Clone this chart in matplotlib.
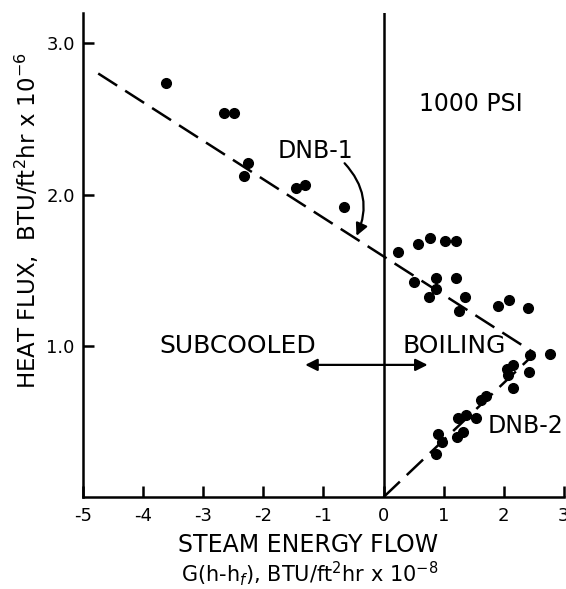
import matplotlib
matplotlib.use("Agg")
import matplotlib.pyplot as plt

# data
sub_x = [-3.62, -2.65, -2.49, -2.26, -2.32, -1.46, -1.30, -0.66]
sub_y = [2.735, 2.54, 2.54, 2.21, 2.12, 2.04, 2.06, 1.92]

boil_x = [0.24, 0.57, 0.77, 1.03, 1.20, 0.50, 0.875, 1.20, 0.875, 0.75, 1.35, 1.25,
          1.90, 2.09, 2.41, 2.77, 2.44, 2.15, 2.06, 2.08, 2.42, 2.16, 1.71, 1.62,
          1.37, 1.24, 1.54, 0.90, 0.975, 1.22, 1.32, 0.875]
boil_y = [1.62, 1.67, 1.71, 1.69, 1.69, 1.42, 1.45, 1.45, 1.375, 1.32, 1.32, 1.23,
          1.265, 1.30, 1.25, 0.945, 0.94, 0.87, 0.845, 0.81, 0.83, 0.72, 0.67, 0.64,
          0.54, 0.525, 0.525, 0.415, 0.366, 0.40, 0.43, 0.287]

dnb1_x = [-4.75, 2.52]
dnb1_y = [2.80, 0.95]
dnb2_x = [0.0, 2.52]
dnb2_y = [0.0, 0.95]

x_ticks = [-5, -4, -3, -2, -1, 0, 1, 2, 3]
x_labels = ["-5", "-4", "-3", "-2", "-1", "0", "1", "2", "3"]
y_ticks = [1.0, 2.0, 3.0]
y_labels = ["1.0", "2.0", "3.0"]

plt.rcParams['font.family'] = ['DejaVu Sans']

fig = plt.figure(figsize=(5.66, 5.89), dpi=100)
ax = fig.add_axes([0.147, 0.156, 0.849, 0.822])

ax.plot(dnb1_x, dnb1_y, color='black', lw=1.8, dashes=(9, 3.8))
ax.plot(dnb2_x, dnb2_y, color='black', lw=1.8, dashes=(9, 3.8))
ax.plot(sub_x, sub_y, 'o', color='black', ms=7)
ax.plot(boil_x, boil_y, 'o', color='black', ms=7)

ax.axvline(0, color='black', lw=1.8)

ax.set_xlim(-5, 3)
ax.set_ylim(0, 3.2)
ax.set_xticks(x_ticks)
ax.set_xticklabels(x_labels)
ax.set_yticks(y_ticks)
ax.set_yticklabels(y_labels)
ax.tick_params(direction='in', length=8, width=1.8, labelsize=13, pad=7)
ax.tick_params(axis='y', pad=6)

for s in ['top', 'right']:
    ax.spines[s].set_visible(False)
for s in ['left', 'bottom']:
    ax.spines[s].set_linewidth(1.8)

# axis titles placed on the figure
fig.text(0.544, 0.075, "STEAM ENERGY FLOW", fontsize=17, ha='center', va='center')
fig.text(0.548, 0.026, "G(h-h$_f$), BTU/ft$^2$hr x 10$^{-8}$", fontsize=15,
         ha='center', va='center')
fig.text(0.048, 0.626, "HEAT FLUX,  BTU/ft$^2$hr x 10$^{-6}$", fontsize=16.5,
         ha='center', va='center', rotation=90)

ax.text(1.45, 2.60, "1000 PSI", fontsize=17, ha='center', va='center')
ax.text(-1.13, 2.29, "DNB-1", fontsize=17, ha='center', va='center')
ax.annotate("", xy=(-0.47, 1.71), xytext=(-0.68, 2.22),
            arrowprops=dict(arrowstyle='-|>', color='black', lw=1.6,
                            connectionstyle='arc3,rad=-0.35', mutation_scale=18))
ax.text(-2.42, 1.0, "SUBCOOLED", fontsize=18, ha='center', va='center')
ax.text(1.18, 1.0, "BOILING", fontsize=18, ha='center', va='center')
ax.annotate("", xy=(-1.35, 0.874), xytext=(0.78, 0.874),
            arrowprops=dict(arrowstyle='<|-|>', color='black', lw=1.6, mutation_scale=18))
ax.text(2.99, 0.47, "DNB-2", fontsize=17, ha='right', va='center')

fig.savefig("out.png", dpi=100)
